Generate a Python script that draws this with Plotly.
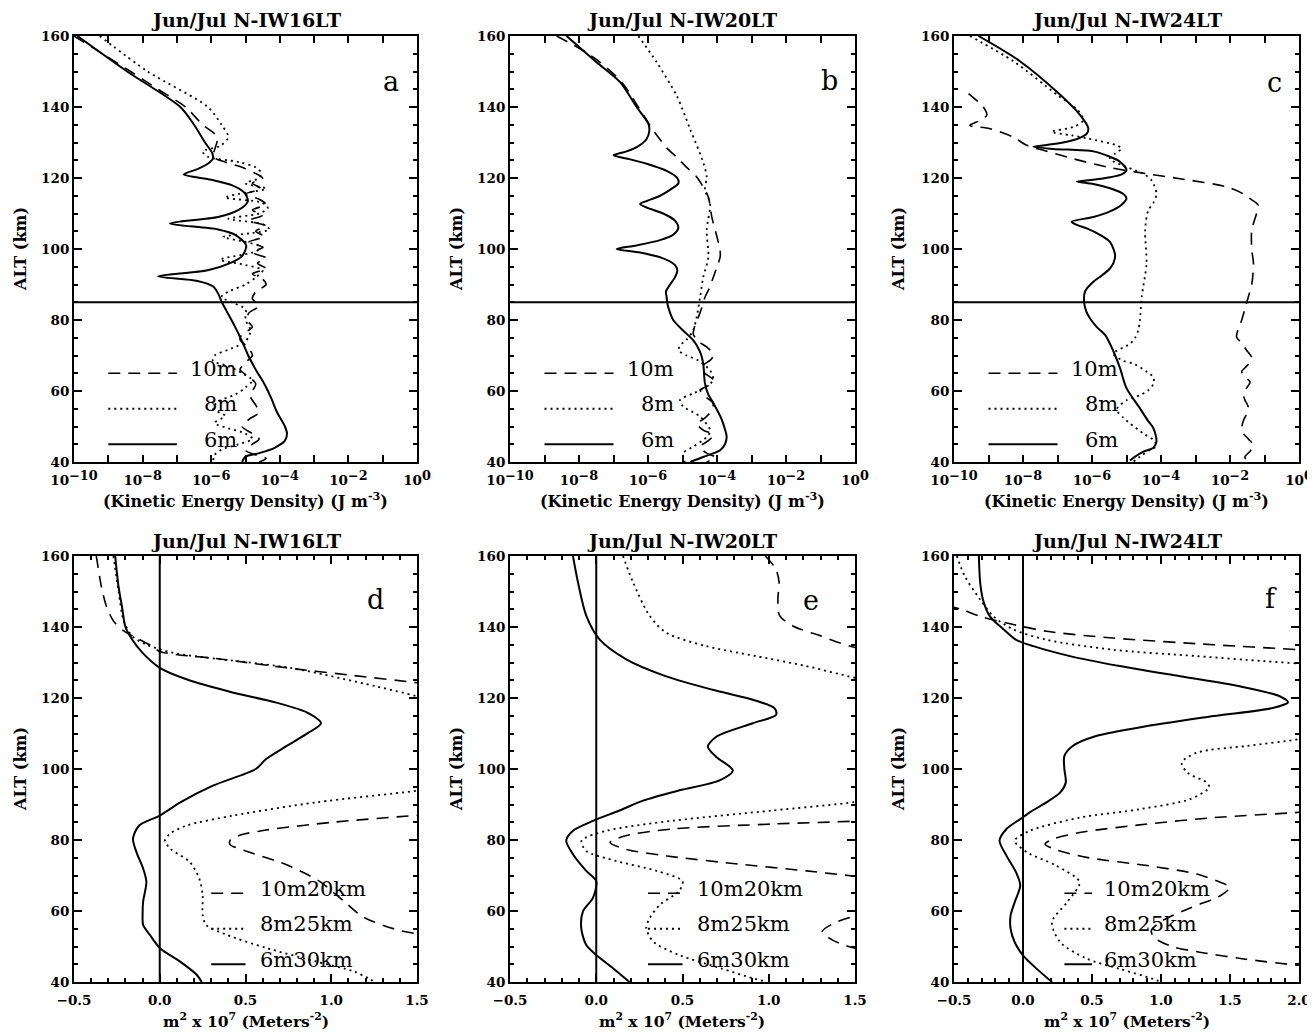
import plotly.graph_objects as go

FONT = "DejaVu Serif"

# ---------------- Panel a: Jun/Jul N-IW16LT, log10 KE density ----------------
a_6m_alt = [160, 150, 140, 135, 130, 127, 125.5, 124, 122.5, 121, 119.5, 118, 116, 113.5, 111, 109, 107.2,
            105.5, 104, 101, 98, 96, 94, 92.3, 91, 89.5, 87.5, 85, 82.5, 78, 74, 70, 66, 62, 58, 54, 50, 48,
            46, 44, 42.5, 41.5, 40]
a_6m_log = [-9.9, -8.45, -6.9, -6.5, -6.18, -5.97, -5.95, -6.1, -6.4, -6.8, -6.0, -5.4, -5.05, -4.93, -5.2,
            -5.8, -7.2, -5.8, -5.3, -4.98, -5.1, -5.45, -6.1, -7.55, -6.4, -5.95, -5.8, -5.69, -5.55, -5.3,
            -5.1, -4.92, -4.7, -4.45, -4.25, -4.08, -3.85, -3.79, -3.85, -4.15, -4.6, -5.0, -5.1]
a_10m_alt = [160, 157, 150, 145, 140, 135, 131.5, 128, 126, 124.5, 123, 121.5, 120, 118.5, 117, 115.5, 114,
             112.5, 111, 109.5, 108, 106.5, 105, 103.5, 102, 100.5, 99, 97.5, 96, 94.5, 93, 91.5, 90, 88, 86,
             84, 82, 80, 78, 76, 74.5, 72, 70, 68, 66, 64, 62, 60, 58.3, 56, 54, 52, 50, 48, 46.5, 45, 43.3,
             42, 41, 40]
a_10m_log = [-10.0, -9.5, -8.35, -7.55, -6.75, -6.25, -5.82, -5.9, -5.95, -5.6, -5.1, -4.75, -4.5, -4.8,
             -4.55, -5.0, -4.6, -4.4, -4.8, -4.5, -4.9, -4.4, -4.7, -4.45, -4.9, -4.5, -4.8, -4.4, -4.65,
             -4.4, -4.8, -4.5, -4.4, -4.7, -4.8, -4.6, -4.9, -4.96, -4.8, -5.1, -5.16, -4.9, -4.8, -5.0,
             -5.16, -4.9, -4.7, -4.8, -4.85, -4.7, -4.6, -4.9, -5.1, -4.8, -4.6, -4.8, -5.0, -4.7, -4.4, -4.6]
a_8m_alt = [160, 150, 140, 135, 131.5, 129, 127.5, 126, 124.5, 123, 121.5, 120, 118.5, 117, 115.5, 114.5,
            113, 111.5, 110, 108.5, 107, 105.5, 104.5, 103.4, 102, 100.5, 99, 97, 95.5, 94, 92, 90, 88, 86.5,
            85, 83, 80, 77, 74, 72, 70, 68.5, 67, 65, 63, 61, 59, 57, 55, 53, 51, 49.5, 48, 46.5, 45, 43.5,
            42, 40]
a_8m_log = [-9.25, -7.85, -6.1, -5.7, -5.5, -5.75, -6.25, -6.1, -5.2, -4.7, -4.55, -4.6, -5.0, -4.4, -5.2,
            -5.6, -4.5, -4.35, -4.6, -5.5, -4.5, -4.3, -4.8, -5.65, -5.0, -4.5, -4.8, -5.74, -5.0, -4.5, -4.7,
            -5.0, -5.5, -5.7, -5.4, -5.0, -5.0, -4.85, -5.0, -5.4, -5.9, -5.95, -5.5, -5.1, -4.8, -5.0, -5.3,
            -5.8, -5.95, -5.6, -5.9, -5.5, -5.0, -4.8, -5.2, -5.7, -5.9, -5.95]

# ---------------- Panel b: Jun/Jul N-IW20LT ----------------
b_6m_alt = [160, 152.6, 147, 140, 135.3, 133.5, 131, 129, 127.5, 126.4, 125.5, 124, 122, 120, 118.5, 117,
            115, 113.5, 112.7, 111.5, 110, 108, 106, 104, 102.5, 101, 100, 99, 97.5, 95.5, 94, 92, 90, 88,
            86.5, 84.7, 82, 80, 77, 74.3, 71, 67.8, 62.2, 59, 56.5, 53, 50.8, 47.1, 45, 43.3, 41.4, 40]
b_6m_log = [-8.36, -7.49, -6.81, -6.33, -5.99, -5.96, -6.04, -6.28, -6.62, -7.0, -6.62, -6.04, -5.46, -5.15,
            -5.12, -5.31, -5.65, -6.04, -6.23, -5.99, -5.56, -5.22, -5.12, -5.27, -5.65, -6.33, -6.91, -6.23,
            -5.6, -5.22, -5.15, -5.22, -5.36, -5.48, -5.46, -5.44, -5.36, -5.27, -4.98, -4.69, -4.49, -4.4,
            -4.35, -4.25, -4.1, -3.91, -3.82, -3.72, -3.77, -3.91, -4.4, -4.78]
b_10m_alt = [160, 156.4, 152.6, 147, 140, 136, 134, 131.5, 128.5, 125.9, 123, 120.3, 117.5, 114.6, 109,
             103.4, 99.5, 97.7, 95, 92, 89, 86.4, 83.5, 80.8, 78.5, 76.1, 74, 72.4, 70.5, 69, 66.8, 65, 63.1,
             61.5, 60.3, 58.5, 56.5, 54, 52, 50.8, 49, 47.6, 46, 44.3, 42.5, 41.4, 40]
b_10m_log = [-8.65, -7.97, -7.39, -6.76, -6.28, -6.02, -5.89, -5.7, -5.46, -5.17, -4.88, -4.59, -4.4, -4.25,
             -4.15, -4.0, -3.91, -3.91, -4.0, -4.11, -4.22, -4.35, -4.44, -4.54, -4.64, -4.69, -4.54, -4.3,
             -4.11, -4.16, -4.44, -4.35, -4.11, -4.25, -4.49, -4.35, -4.11, -4.2, -4.4, -4.59, -4.4, -4.11,
             -4.25, -4.49, -4.3, -4.06, -4.3]
b_8m_alt = [160, 152.6, 143.2, 133.8, 124.4, 120.3, 116.6, 112.8, 105.3, 97.7, 92, 86.4, 80.8, 77.1, 74.5,
            73.3, 71.5, 70, 68.6, 65.8, 63.1, 61, 59.3, 57.5, 55.6, 54, 52.8, 49, 47.5, 46.2, 44.3, 42.5, 40]
b_8m_log = [-6.28, -5.75, -5.17, -4.78, -4.4, -4.3, -4.35, -4.2, -4.3, -4.25, -4.4, -4.49, -4.59, -4.69,
            -4.88, -5.02, -5.12, -4.88, -4.54, -4.2, -4.11, -4.35, -4.69, -5.07, -4.98, -4.69, -4.49, -4.2,
            -4.25, -4.4, -4.69, -4.98, -4.93]

# ---------------- Panel c: Jun/Jul N-IW24LT ----------------
c_6m_alt = [160, 152.9, 143.5, 137.8, 134.1, 132.5, 131.3, 130.2, 129.3, 128.8, 128.2, 127.5, 126, 124.6,
            122.3, 121, 120.2, 119.5, 119, 118.3, 117.1, 115.5, 114.3, 112.5, 110.6, 109, 107.7, 106.8,
            105.8, 104, 102, 98.3, 96, 94.5, 92.5, 90.8, 88.1, 85.2, 82.5, 80.5, 78, 75.8, 71.2, 66.5, 60.8,
            55.1, 51.5, 49.5, 45.8, 44, 42.9, 41.5, 40.4]
c_6m_log = [-9.29, -8.09, -6.93, -6.35, -6.11, -6.15, -6.35, -6.73, -7.31, -7.7, -7.12, -5.96, -5.48, -5.19,
            -5.0, -5.14, -5.48, -5.96, -6.44, -5.96, -5.48, -5.09, -5.0, -5.14, -5.48, -5.96, -6.59, -6.44,
            -6.15, -5.77, -5.48, -5.33, -5.38, -5.48, -5.72, -5.96, -6.2, -6.23, -6.17, -6.06, -5.86, -5.62,
            -5.38, -5.19, -5.0, -4.61, -4.37, -4.22, -4.13, -4.22, -4.51, -4.75, -4.9]
c_10m_alt = [143.8, 140, 137.7, 136.2, 134.8, 133.9, 131.5, 129.2, 127.8, 125.9, 123.1, 121.2, 119.8, 117.5,
             115.5, 114.2, 112.3, 110, 105.3, 100, 95.9, 90, 86.5, 83, 80, 77.5, 75.2, 73.5, 71.5, 69.5,
             68.6, 67, 65.4, 64, 62.5, 60.8, 59.2, 57.5, 55.5, 53.5, 51.7, 49.5, 48, 46.5, 44.7, 43, 41.4, 40]
c_10m_log = [-9.58, -9.15, -9.05, -9.25, -9.54, -8.96, -8.28, -7.89, -7.41, -6.73, -5.57, -4.42, -3.45, -2.1,
             -1.61, -1.42, -1.18, -1.23, -1.37, -1.37, -1.32, -1.37, -1.47, -1.57, -1.66, -1.76, -1.81,
             -1.66, -1.52, -1.37, -1.37, -1.52, -1.66, -1.57, -1.42, -1.52, -1.61, -1.57, -1.47, -1.52,
             -1.61, -1.66, -1.61, -1.47, -1.32, -1.42, -1.57, -1.47]
c_8m_alt = [160, 152.9, 143.5, 139, 136.2, 134.4, 133, 132, 131.1, 129.2, 128.3, 126.9, 125.4, 123.1, 121.2,
            119.3, 115.6, 113, 110.9, 105.3, 95.9, 86.5, 80, 77.1, 75, 73.3, 70.5, 68.5, 67.7, 65.5, 63.9,
            62, 60.2, 58.8, 57.4, 55.5, 54.6, 52.5, 50.9, 48, 46.2, 44.5, 43.4, 41.5, 40.1]
c_8m_log = [-9.54, -8.28, -7.02, -6.4, -6.25, -6.54, -7.17, -6.59, -6.11, -5.29, -5.14, -5.33, -5.48, -5.0,
            -4.51, -4.27, -4.13, -4.22, -4.37, -4.46, -4.42, -4.56, -4.61, -4.66, -4.75, -4.9, -5.38, -5.09,
            -4.8, -4.42, -4.22, -4.22, -4.37, -4.61, -5.0, -5.24, -5.29, -5.09, -4.9, -4.51, -4.22, -4.13,
            -4.32, -4.61, -4.8]

# ---------------- Panel d: m^2 x 10^7, N-IW16LT (None = gap between branches) ----------------
d_6m_alt = [160, 151.3, 145.7, 140, 136.4, 132.7, 128.5, 125.2, 121.5, 118.7, 115.9, 112.9, 110.3, 106.5,
            102.8, 100, 95.3, 90.6, 86.9, 84.1, 80.4, 76.6, 72, 68.2, 62.6, 58.9, 56.1, 53.3, 49.6, 45.8,
            42.1, 40]
d_6m_val = [-0.26, -0.24, -0.22, -0.2, -0.16, -0.1, 0.0, 0.16, 0.43, 0.68, 0.86, 0.94, 0.87, 0.74, 0.62,
            0.56, 0.31, 0.12, 0.0, -0.12, -0.156, -0.136, -0.097, -0.078, -0.097, -0.1, -0.097, -0.058, 0.0,
            0.117, 0.214, 0.245]
d_8m_alt = [160, 150, 141.7, 137.4, 135.1, 132.7, 128.5, 123.3, 120.5, 118, None,
            95.5, 93.9, 90.6, 86.9, 84.1, 81.8, 79.9, 77.6, 73.8, 69.2, 64.5, 58.9, 56.1, 53.3, 49.6, 45.8,
            43, 40.7, 40]
d_8m_val = [-0.27, -0.24, -0.21, -0.16, -0.08, 0.08, 0.76, 1.26, 1.5, 1.7, None,
            1.7, 1.5, 0.91, 0.43, 0.16, 0.06, 0.03, 0.06, 0.175, 0.23, 0.25, 0.25, 0.27, 0.39, 0.62, 0.91,
            1.13, 1.23, 1.25]
d_10m_alt = [160, 151.3, 145.7, 141.7, 138.9, 136.5, 134.5, 133.1, 131, 128.5, 126.5, 124.3, 122.5, None,
             87.5, 86.9, 85, 82.8, 81.4, 79.9, 78.7, 77.1, 73, 68.4, 62.9, 58.2, 54.5, 53.6, 52.5]
d_10m_val = [-0.37, -0.34, -0.31, -0.27, -0.21, -0.12, -0.04, 0.0, 0.35, 0.74, 1.1, 1.5, 1.8, None,
             1.8, 1.5, 1.01, 0.62, 0.47, 0.41, 0.41, 0.49, 0.74, 0.93, 1.07, 1.19, 1.4, 1.5, 1.7]

# ---------------- Panel e: N-IW20LT ----------------
e_6m_alt = [160, 152.6, 143.2, 136.5, 130.9, 126.1, 122.3, 119.5, 117.1, 115.3, 112.9, 109.1, 106.3, 103.4,
            99.6, 96.8, 94, 91.1, 88.3, 85.4, 82.6, 79.8, 76, 71.3, 68.4, 63.7, 59.9, 55.2, 50.4, 47.6, 43.9,
            40]
e_6m_val = [-0.135, -0.106, -0.058, 0.019, 0.174, 0.406, 0.676, 0.908, 1.034, 1.043, 0.908, 0.696, 0.647,
            0.696, 0.792, 0.715, 0.483, 0.271, 0.135, -0.019, -0.135, -0.174, -0.135, -0.058, 0.0, -0.019,
            -0.077, -0.087, -0.058, 0.0, 0.097, 0.193]
e_8m_alt = [160, 152.6, 143.2, 138.4, 134.6, 131.8, 129, 125.7, 123.5, None,
            92.5, 90.7, 88.3, 85.4, 82.6, 79.8, 76.9, 74.1, 71.3, 68.4, 65.6, 61.8, 58, 55.2, 51.4, 47.6,
            43.9, 41, 40]
e_8m_val = [0.155, 0.213, 0.309, 0.406, 0.638, 0.927, 1.217, 1.5, 1.75, None,
            1.7, 1.5, 1.02, 0.44, 0.06, -0.085, -0.058, 0.115, 0.35, 0.5, 0.48, 0.37, 0.31, 0.29, 0.33, 0.48,
            0.72, 0.91, 0.99]
e_10m_alt = [160, 156.4, 152.6, 147.9, 143.2, 140.3, 137.5, 134.2, 133, None,
             85.8, 85.3, 84.5, 83.1, 81.2, 79.3, 77.4, 75.5, 73.2, 71.3, 69.8, 69, None,
             59.5, 58.5, 56.6, 54.2, 51.8, 49.5, 48.5]
e_10m_val = [0.98, 1.04, 1.06, 1.053, 1.063, 1.14, 1.3, 1.5, 1.7, None,
             1.7, 1.5, 1.02, 0.44, 0.17, 0.08, 0.17, 0.41, 0.83, 1.22, 1.5, 1.7, None,
             1.7, 1.5, 1.38, 1.31, 1.37, 1.5, 1.7]

# ---------------- Panel f: N-IW24LT ----------------
f_6m_alt = [160, 152.4, 147.7, 143, 139.3, 136.4, 134.6, 131.8, 129, 126.1, 123.3, 120.5, 118.8, 117.2,
            114.9, 112.1, 109.3, 106.5, 103.7, 99.9, 96.2, 93.4, 90.6, 87.8, 85.9, 83.1, 79.8, 75.6, 70.9,
            67.2, 62.5, 58.7, 55, 51.2, 47.5, 43.7, 40]
f_6m_val = [-0.32, -0.31, -0.29, -0.24, -0.14, -0.05, 0.075, 0.34, 0.7, 1.14, 1.57, 1.86, 1.92, 1.81, 1.38,
            0.9, 0.53, 0.36, 0.3, 0.3, 0.31, 0.27, 0.17, 0.05, -0.02, -0.12, -0.17, -0.12, -0.05, -0.02,
            -0.06, -0.09, -0.09, -0.06, 0.0, 0.1, 0.21]
f_8m_alt = [160, 154.2, 147.7, 143, 139.3, 136.4, 133.6, 131.8, 130.4, 129.7, 129, None,
            110, 108.4, 106.5, 104.6, 101.8, 99, 96.2, 94.8, 91.5, 88.7, 86.3, 82.6, 79.8, 76.5, 72.8, 68.1,
            62.5, 56.9, 51.2, 46.6, 43.7, 40.9, 40]
f_8m_val = [-0.48, -0.42, -0.31, -0.215, -0.07, 0.17, 0.65, 1.26, 1.74, 2.0, 2.2, None,
            2.2, 2.0, 1.62, 1.26, 1.15, 1.19, 1.33, 1.35, 1.21, 0.85, 0.41, 0.05, -0.06, 0.03, 0.24, 0.41,
            0.32, 0.21, 0.27, 0.46, 0.7, 0.94, 1.0]
f_10m_alt = [146, 144.9, 143, 140.7, 138.8, 136.9, 135, 133.6, 132.8, None,
             88.5, 87.8, 86.3, 84.5, 82.1, 80.3, 78.9, 77.5, 75.1, 72.8, 70.4, 68.1, 66.7, 64.3, 61, 57.5,
             54.5, 52.5, 50, 48.4, 46.5, 44.7, 44]
f_10m_val = [-0.55, -0.44, -0.31, -0.07, 0.17, 0.65, 1.38, 2.0, 2.3, None,
             2.2, 2.0, 1.38, 0.9, 0.41, 0.22, 0.16, 0.22, 0.46, 0.9, 1.26, 1.43, 1.5, 1.43, 1.22, 1.02,
             0.93, 0.95, 1.08, 1.28, 1.6, 2.0, 2.3]

# ---------------- labels / reference values ----------------
TITLES = ["Jun/Jul N-IW16LT", "Jun/Jul N-IW20LT", "Jun/Jul N-IW24LT",
          "Jun/Jul N-IW16LT", "Jun/Jul N-IW20LT", "Jun/Jul N-IW24LT"]
LETTERS = ["a", "b", "c", "d", "e", "f"]
LEG_TOP = ["10m", "8m", "6m"]
LEG_BOT = ["10m20km", "8m25km", "6m30km"]
LEG_ALTS = [65, 55, 45]
LEG_X_TOP_LOG = [-9, -7]
LEG_X_BOT = [0.3, 0.5]
KE_TICK_EXP = [-10, -8, -6, -4, -2, 0]
KE_TICK_EXP_TEXT = ["\u221210", "\u22128", "\u22126", "\u22124", "\u22122", "0"]
KE_MINOR_EXP = [-9, -7, -5, -3, -1]
MESOPAUSE_ALT = 85
XMAX_BOT = [1.5, 1.5, 2.0]

STYLE = {"10m": dict(color="black", width=1.6, dash="12px,8px"),
         "8m": dict(color="black", width=1.8, dash="2px,4px"),
         "6m": dict(color="black", width=2.0, dash="solid")}

top_data = [
    [(a_10m_log, a_10m_alt, "10m"), (a_8m_log, a_8m_alt, "8m"), (a_6m_log, a_6m_alt, "6m")],
    [(b_10m_log, b_10m_alt, "10m"), (b_8m_log, b_8m_alt, "8m"), (b_6m_log, b_6m_alt, "6m")],
    [(c_10m_log, c_10m_alt, "10m"), (c_8m_log, c_8m_alt, "8m"), (c_6m_log, c_6m_alt, "6m")],
]
bot_data = [
    [(d_10m_val, d_10m_alt, "10m"), (d_8m_val, d_8m_alt, "8m"), (d_6m_val, d_6m_alt, "6m")],
    [(e_10m_val, e_10m_alt, "10m"), (e_8m_val, e_8m_alt, "8m"), (e_6m_val, e_6m_alt, "6m")],
    [(f_10m_val, f_10m_alt, "10m"), (f_8m_val, f_8m_alt, "8m"), (f_6m_val, f_6m_alt, "6m")],
]

# page body margin of the browser shifts the figure by OFF px; lay out in window pixels
OFF = 8
W, H = 1315 - OFF, 1032 - OFF
XPIX = [(74, 417), (510, 855), (954, 1299)]
YPIX_TOP = (36, 462)
YPIX_BOT = (556, 982)
TICK_SIZE = 13.5


def px2x(p):
    return (p - OFF) / W


def py2y(p):
    return 1 - (p - OFF) / H


def xdom(p):
    return [px2x(p[0]), px2x(p[1])]


def ydom(p):
    return [py2y(p[1]), py2y(p[0])]


ke_ticktext = ['10<sup><span style="font-size:%.1fpx">%s</span></sup>' % (TICK_SIZE * 0.95, t)
               for t in KE_TICK_EXP_TEXT]

fig = go.Figure()

for k in range(6):
    ax = k + 1
    xr = "x" if ax == 1 else f"x{ax}"
    yr = "y" if ax == 1 else f"y{ax}"
    top = k < 3
    curves = top_data[k] if top else bot_data[k - 3]
    for xs, ys, key in curves:
        if top:
            xv = [None if v is None else 10 ** v for v in xs]
        else:
            xv = xs
        fig.add_trace(go.Scatter(x=xv, y=ys, mode="lines", line=dict(shape="spline", smoothing=0.8, **STYLE[key]),
                                 xaxis=xr, yaxis=yr, showlegend=False, hoverinfo="skip", connectgaps=False))
    # legend samples
    for key, alt in zip(["10m", "8m", "6m"], LEG_ALTS):
        lx = [10 ** v for v in LEG_X_TOP_LOG] if top else LEG_X_BOT
        fig.add_trace(go.Scatter(x=lx, y=[alt, alt], mode="lines", line=STYLE[key],
                                 xaxis=xr, yaxis=yr, showlegend=False, hoverinfo="skip"))

axis_line = dict(showline=True, linecolor="black", linewidth=2, mirror="ticks", showgrid=False,
                 zeroline=False, ticks="inside", tickcolor="black", tickwidth=1.5, automargin=False,
                 tickfont=dict(family=FONT, size=TICK_SIZE, color="black", weight="bold"))

layout = dict(width=W, height=H, margin=dict(l=0, r=0, t=0, b=0, pad=0, autoexpand=False),
              plot_bgcolor="white", paper_bgcolor="white", showlegend=False)

for k in range(6):
    ax = k + 1
    col = k % 3
    top = k < 3
    xkey = "xaxis" if ax == 1 else f"xaxis{ax}"
    ykey = "yaxis" if ax == 1 else f"yaxis{ax}"
    anchor_x = "x" if ax == 1 else f"x{ax}"
    anchor_y = "y" if ax == 1 else f"y{ax}"
    ydomain = ydom(YPIX_TOP if top else YPIX_BOT)
    if top:
        xa = dict(axis_line, type="log", range=[-10, 0], domain=xdom(XPIX[col]), anchor=anchor_y,
                  tickmode="array", tickvals=[10 ** e for e in KE_TICK_EXP], ticktext=ke_ticktext, ticklen=7,
                  ticklabelstandoff=5,
                  minor=dict(tickmode="array", tickvals=[10 ** e for e in KE_MINOR_EXP], ticklen=7,
                             ticks="inside", tickcolor="black", tickwidth=1.5))
    else:
        xmax = XMAX_BOT[col]
        xa = dict(axis_line, type="linear", range=[-0.5, xmax], domain=xdom(XPIX[col]), anchor=anchor_y,
                  tick0=-0.5, dtick=0.5, tickformat=".1f", ticklen=8, ticklabelstandoff=5,
                  minor=dict(dtick=0.1, tick0=-0.5, ticklen=4, ticks="inside", tickcolor="black", tickwidth=1.5))
    ya = dict(axis_line, range=[40, 160], domain=ydomain, anchor=anchor_x, tick0=40, dtick=20, ticklen=8,
              minor=dict(dtick=5, ticklen=4, ticks="inside", tickcolor="black", tickwidth=1.5))
    layout[xkey] = xa
    layout[ykey] = ya

fig.update_layout(**layout)

shapes = []
annotations = []
for k in range(6):
    ax = k + 1
    col = k % 3
    top = k < 3
    xr = "x" if ax == 1 else f"x{ax}"
    yr = "y" if ax == 1 else f"y{ax}"
    xd = xdom(XPIX[col])
    yd = ydom(YPIX_TOP if top else YPIX_BOT)
    xc = (xd[0] + xd[1]) / 2
    yc = (yd[0] + yd[1]) / 2
    # reference lines
    if top:
        shapes.append(dict(type="line", xref=f"{xr} domain", yref=yr, x0=0, x1=1,
                           y0=MESOPAUSE_ALT, y1=MESOPAUSE_ALT, line=dict(color="black", width=2)))
    else:
        shapes.append(dict(type="line", xref=xr, yref=f"{yr} domain", x0=0, x1=0, y0=0, y1=1,
                           line=dict(color="black", width=2)))
    # title
    annotations.append(dict(text=TITLES[k], xref="paper", yref="paper", x=xc,
                            y=py2y(20) if top else py2y(541), xanchor="center", yanchor="middle",
                            showarrow=False, font=dict(family=FONT, size=19, color="black", weight="bold")))
    # x title
    if top:
        xt = "(Kinetic Energy Density) (J m<sup>-3</sup>)"
        fs = 16
        ty = py2y(500)
    else:
        xt = "m<sup>2</sup> x 10<sup>7</sup> (Meters<sup>-2</sup>)"
        fs = 15.5
        ty = py2y(1020)
    annotations.append(dict(text=xt, xref="paper", yref="paper", x=xc, y=ty, xanchor="center",
                            yanchor="middle", showarrow=False,
                            font=dict(family=FONT, size=fs, color="black", weight="bold")))
    # y title
    ypx = [20, 456, 898][col]
    annotations.append(dict(text="ALT (km)", xref="paper", yref="paper", x=px2x(ypx), y=yc, textangle=-90,
                            xanchor="center", yanchor="middle", showarrow=False,
                            font=dict(family=FONT, size=16, color="black", weight="bold")))
    # panel letter
    lpos = [(0.925, 0.893), (0.925, 0.895), (0.928, 0.89), (0.878, 0.897), (0.873, 0.896), (0.919, 0.9)][k]
    annotations.append(dict(text=LETTERS[k], xref=f"{xr} domain", yref=f"{yr} domain", x=lpos[0], y=lpos[1],
                            xanchor="center", yanchor="middle", showarrow=False,
                            font=dict(family=FONT, size=27, color="black")))
    # legend texts
    labels = LEG_TOP if top else LEG_BOT
    for lab, alt in zip(labels, LEG_ALTS):
        if top:
            annotations.append(dict(text=lab, xref=xr, yref=yr, x=-5.2, y=alt + 1.3, xanchor="right",
                                    yanchor="middle", showarrow=False,
                                    font=dict(family=FONT, size=21, color="black")))
        else:
            annotations.append(dict(text=lab, xref=xr, yref=yr, x=0.57, y=alt + 1.3, xanchor="left",
                                    yanchor="middle", showarrow=False,
                                    font=dict(family=FONT, size=21, color="black")))

fig.update_layout(shapes=shapes, annotations=annotations)
fig.write_html("out.html")
